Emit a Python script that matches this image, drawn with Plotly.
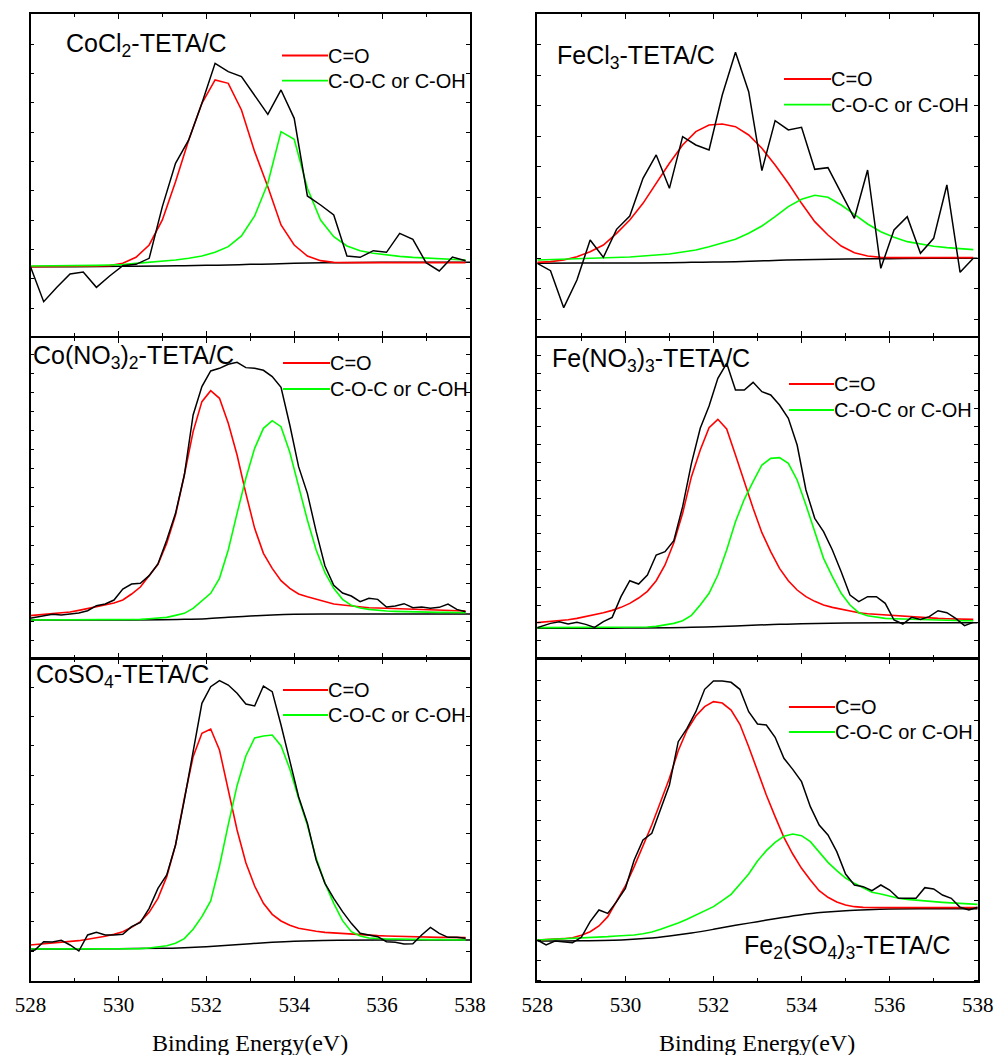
import plotly.graph_objects as go

# ---------------- data (arbitrary intensity units) ----------------
E_03 = [528.0, 528.3, 528.6, 528.9, 529.2, 529.5, 529.8, 530.1, 530.4, 530.7,
        531.0, 531.3, 531.6, 531.9, 532.2, 532.5, 532.8, 533.1, 533.4, 533.7,
        534.0, 534.3, 534.6, 534.9, 535.2, 535.5, 535.8, 536.1, 536.4, 536.7,
        537.0, 537.3, 537.6, 537.9]
E_ODD = [527.9, 528.1, 528.3, 528.5, 528.7, 528.9, 529.1, 529.3, 529.5, 529.7,
         529.9, 530.1, 530.3, 530.5, 530.7, 530.9, 531.1, 531.3, 531.5, 531.7,
         531.9, 532.1, 532.3, 532.5, 532.7, 532.9, 533.1, 533.3, 533.5, 533.7,
         533.9, 534.1, 534.3, 534.5, 534.7, 534.9, 535.1, 535.3, 535.5, 535.7,
         535.9, 536.1, 536.3, 536.5, 536.7, 536.9, 537.1, 537.3, 537.5, 537.7,
         537.9]
E_EVEN = [528.0, 528.2, 528.4, 528.6, 528.8, 529.0, 529.2, 529.4, 529.6, 529.8,
          530.0, 530.2, 530.4, 530.6, 530.8, 531.0, 531.2, 531.4, 531.6, 531.8,
          532.0, 532.2, 532.4, 532.6, 532.8, 533.0, 533.2, 533.4, 533.6, 533.8,
          534.0, 534.2, 534.4, 534.6, 534.8, 535.0, 535.2, 535.4, 535.6, 535.8,
          536.0, 536.2, 536.4, 536.6, 536.8, 537.0, 537.2, 537.4, 537.6, 537.8,
          538.0]
E_BG = [528.0, 529.0, 530.0, 531.0, 531.5, 532.0, 532.5, 533.0, 533.5, 534.0,
        535.0, 536.0, 537.0, 538.0]
E_BG_BR = [528.0, 529.0, 530.0, 530.5, 531.0, 531.5, 532.0, 532.5, 533.0, 533.5,
           534.0, 534.5, 535.0, 535.5, 536.0, 537.0, 538.0]

# CoCl2-TETA/C
COCL2_RAW = [208, 103, 146, 186, 192, 146, 180, 211, 215, 233, 388, 518, 588, 698, 818,
             793, 778, 721, 665, 738, 653, 420, 393, 363, 240, 236, 256, 251, 308, 290,
             220, 195, 237, 226]
COCL2_CO = [208, 208, 208, 208, 209, 210, 211, 218, 236, 273, 348, 463, 588, 698, 768,
            758, 678, 553, 448, 333, 273, 240, 226, 221, 220, 220, 220, 220, 220, 220,
            220, 220, 220, 220]
COCL2_COC = [210, 210, 211, 211, 212, 212, 213, 214, 218, 221, 224, 228, 233, 240, 251,
             268, 300, 360, 458, 613, 590, 443, 348, 298, 270, 256, 248, 243, 239, 236,
             234, 232, 230, 228]
COCL2_BG = [208, 208, 209, 210, 211, 212, 213, 215, 216, 218, 220, 221, 221, 221]

# FeCl3-TETA/C
FECL3_RAW = [218, 196, 85, 168, 288, 236, 320, 360, 473, 543, 443, 598, 573, 558, 723,
             851, 733, 496, 646, 618, 626, 500, 505, 428, 353, 498, 203, 318, 358, 248,
             293, 453, 191, 233]
FECL3_CO = [221, 223, 228, 238, 253, 273, 308, 348, 398, 458, 518, 573, 613, 633, 636,
            628, 603, 563, 513, 458, 398, 343, 303, 270, 250, 240, 236, 235, 235, 235,
            235, 235, 235, 235]
FECL3_COC = [228, 229, 230, 231, 232, 233, 235, 237, 240, 243, 246, 252, 258, 268, 278,
             290, 308, 330, 358, 388, 410, 422, 416, 393, 365, 336, 313, 296, 283, 275,
             269, 265, 262, 259]
FECL3_BG = [218, 219, 219, 220, 221, 222, 223, 225, 227, 229, 231, 232, 233, 233]

# Co(NO3)2-TETA/C
CONO3_RAW = [116, 120, 124, 130, 128, 132, 134, 141, 156, 161, 173, 206, 221, 223, 246,
             281, 353, 433, 548, 728, 813, 860, 868, 880, 886, 870, 868, 862, 843, 811,
             698, 573, 493, 378, 275, 217, 194, 185, 168, 178, 175, 152, 155, 162, 150,
             152, 148, 151, 161, 145, 138]
CONO3_CO = [125, 127, 129, 131, 134, 137, 142, 147, 153, 157, 164, 173, 191, 212, 246,
            280, 343, 428, 548, 678, 768, 801, 778, 703, 608, 493, 388, 313, 268, 231,
            208, 191, 183, 175, 169, 161, 158, 155, 153, 150, 149, 148, 147, 146, 145,
            144, 143, 142, 141, 141, 140]
CONO3_COC = [113, 113, 113, 113, 113, 113, 113, 113, 113, 113, 113, 113, 114, 115, 117,
             119, 121, 127, 133, 148, 171, 193, 238, 323, 433, 538, 628, 688, 711, 693,
             616, 513, 413, 323, 255, 208, 175, 157, 149, 145, 142, 140, 139, 138, 137,
             137, 136, 136, 136, 135, 135]
CONO3_BG = [113, 113, 113, 114, 115, 117, 121, 125, 128, 130, 131, 131, 131, 131]

# Fe(NO3)3-TETA/C
FENO3_RAW = [86, 95, 103, 108, 101, 106, 100, 91, 108, 121, 183, 231, 221, 248, 308,
             318, 351, 453, 583, 688, 755, 838, 883, 803, 803, 826, 798, 788, 758, 718,
             638, 503, 418, 378, 323, 258, 188, 168, 183, 183, 163, 113, 101, 121, 115,
             123, 141, 135, 118, 96, 106]
FENO3_CO = [104, 106, 108, 111, 114, 118, 123, 128, 135, 142, 151, 163, 179, 199, 231,
            278, 345, 433, 543, 623, 690, 715, 686, 608, 525, 448, 375, 318, 268, 231,
            203, 183, 169, 158, 151, 145, 139, 135, 132, 130, 128, 126, 124, 122, 121,
            119, 118, 117, 116, 116, 115]
FENO3_COC = [90, 90, 90, 90, 90, 90, 90, 90, 90, 90, 90, 90, 91, 92, 94,
             98, 103, 111, 127, 158, 193, 248, 323, 408, 475, 528, 578, 598, 600, 583,
             533, 458, 378, 298, 243, 193, 158, 135, 126, 121, 118, 117, 116, 115, 114,
             113, 113, 112, 112, 111, 111]
FENO3_BG = [88, 88, 89, 90, 91, 93, 95, 98, 100, 102, 104, 105, 105, 105]

# CoSO4-TETA/C
COSO4_RAW = [88, 93, 118, 117, 122, 108, 90, 138, 146, 138, 138, 140, 163, 176, 218,
             278, 318, 408, 543, 693, 833, 883, 901, 888, 863, 831, 825, 885, 868, 768,
             663, 553, 473, 363, 293, 248, 208, 173, 143, 138, 133, 118, 116, 111, 112,
             138, 161, 143, 131, 131, 128]
COSO4_CO = [107, 109, 111, 113, 115, 118, 121, 125, 129, 134, 140, 148, 161, 178, 206,
            248, 313, 408, 548, 673, 743, 756, 693, 573, 453, 355, 285, 233, 200, 180,
            167, 158, 153, 149, 146, 144, 142, 140, 138, 137, 136, 135, 134, 133, 133,
            132, 132, 131, 131, 130, 130]
COSO4_COC = [96, 96, 96, 96, 96, 96, 96, 96, 96, 96, 96, 96, 96, 97, 99,
             102, 106, 113, 127, 155, 193, 240, 345, 469, 586, 675, 729, 735, 738, 706,
             636, 548, 468, 368, 293, 233, 181, 148, 135, 129, 127, 126, 126, 125, 125,
             124, 124, 124, 123, 123, 123]
COSO4_BG = [96, 96, 97, 98, 100, 103, 107, 112, 116, 119, 122, 123, 123, 123]

# Fe2(SO4)3-TETA/C
FESO4_RAW = [123, 108, 120, 118, 115, 131, 178, 213, 203, 238, 278, 363, 423, 443, 513,
             588, 718, 758, 808, 875, 900, 900, 896, 875, 808, 771, 768, 731, 668, 635,
             598, 523, 468, 438, 388, 321, 288, 283, 271, 288, 273, 248, 248, 248, 280,
             276, 258, 248, 221, 213, 221]
FESO4_CO = [123, 124, 125, 127, 130, 137, 148, 165, 193, 241, 285, 343, 403, 468, 538,
            608, 691, 753, 795, 823, 838, 834, 813, 770, 703, 628, 558, 493, 431, 381,
            338, 303, 271, 251, 237, 228, 223, 221, 220, 220, 220, 220, 220, 220, 220,
            220, 220, 220, 220, 220, 220]
FESO4_COC = [123, 124, 125, 126, 127, 128, 130, 131, 133, 135, 136, 138, 142, 147, 155,
             164, 174, 185, 197, 209, 223, 241, 260, 290, 321, 360, 391, 416, 434, 441,
             436, 418, 387, 356, 331, 309, 293, 279, 266, 261, 254, 248, 245, 242, 240,
             238, 236, 234, 233, 231, 230]
FESO4_BG = [120, 121, 124, 128, 135, 144, 155, 167, 178, 189, 199, 206, 211, 214, 216,
            217, 217]

PANEL_LABELS = ["CoCl<sub>2</sub>-TETA/C", "FeCl<sub>3</sub>-TETA/C",
                "Co(NO<sub>3</sub>)<sub>2</sub>-TETA/C", "Fe(NO<sub>3</sub>)<sub>3</sub>-TETA/C",
                "CoSO<sub>4</sub>-TETA/C", "Fe<sub>2</sub>(SO<sub>4</sub>)<sub>3</sub>-TETA/C"]
SERIES_NAMES = ["C=O", "C-O-C or C-OH"]
X_TITLE = "Binding Energy(eV)"

# ---------------- layout helpers (window pixel -> paper) ----------------
W, H = 994, 1055
def px(x):
    return x / W
def py(y):
    return 1 - y / H

panels = [
    dict(E=E_03, raw=COCL2_RAW, co=COCL2_CO, coc=COCL2_COC, ebg=E_BG, bg=COCL2_BG,
         xd=(30.5, 470), yd=(14.3, 336), yr=965, t0=83, dt=88,
         lab=(64, 45), leg=(282, 328, 55.5, 80.7)),
    dict(E=E_03, raw=FECL3_RAW, co=FECL3_CO, coc=FECL3_COC, ebg=E_BG, bg=FECL3_BG,
         xd=(537.3, 977.7), yd=(14.3, 336), yr=965, t0=50, dt=91.5,
         lab=(555, 57), leg=(784, 831, 79, 104.7)),
    dict(E=E_ODD, raw=CONO3_RAW, co=CONO3_CO, coc=CONO3_COC, ebg=E_BG, bg=CONO3_BG,
         xd=(30.5, 470), yd=(338.3, 657.7), yr=958, t0=51, dt=57.3,
         lab=(31, 357), leg=(283, 330, 363, 389)),
    dict(E=E_ODD, raw=FENO3_RAW, co=FENO3_CO, coc=FENO3_COC, ebg=E_BG, bg=FENO3_BG,
         xd=(537.3, 977.7), yd=(338.3, 657.7), yr=958, t0=51, dt=53.5,
         lab=(550, 360), leg=(789, 834, 384, 410)),
    dict(E=E_ODD, raw=COSO4_RAW, co=COSO4_CO, coc=COSO4_COC, ebg=E_BG, bg=COSO4_BG,
         xd=(30.5, 470), yd=(659, 981), yr=966, t0=90, dt=88,
         lab=(34, 676), leg=(283, 328, 690, 715)),
    dict(E=E_EVEN, raw=FESO4_RAW, co=FESO4_CO, coc=FESO4_COC, ebg=E_BG_BR, bg=FESO4_BG,
         xd=(537.3, 977.7), yd=(659, 981), yr=966, t0=63, dt=60,
         lab=(742, 947), leg=(789, 835, 707, 732)),
]

RED = "#FF0000"
GREEN = "#00FF00"
BLACK = "#000000"
SANS = "Liberation Sans, Arial, sans-serif"
SERIF = "Liberation Serif, Times New Roman, serif"

fig = go.Figure()
layout = dict(template="none", width=W, height=H,
              margin=dict(l=0, r=0, t=0, b=0, pad=0, autoexpand=False),
              paper_bgcolor="white", plot_bgcolor="white", showlegend=False)
annotations = []
shapes = []

for i, p in enumerate(panels):
    n = "" if i == 0 else str(i + 1)
    xa, ya = "x" + n, "y" + n
    fig.add_trace(go.Scatter(x=p["ebg"], y=p["bg"], mode="lines", xaxis=xa, yaxis=ya,
                             line=dict(color=BLACK, width=1.5, shape="spline", smoothing=1),
                             hoverinfo="skip"))
    fig.add_trace(go.Scatter(x=p["E"], y=p["co"], mode="lines", xaxis=xa, yaxis=ya,
                             name=SERIES_NAMES[0], line=dict(color=RED, width=1.6)))
    fig.add_trace(go.Scatter(x=p["E"], y=p["coc"], mode="lines", xaxis=xa, yaxis=ya,
                             name=SERIES_NAMES[1], line=dict(color=GREEN, width=1.6)))
    fig.add_trace(go.Scatter(x=p["E"], y=p["raw"], mode="lines", xaxis=xa, yaxis=ya,
                             line=dict(color=BLACK, width=1.5)))
    bottom = i >= 4
    layout["xaxis" + n] = dict(
        domain=[px(p["xd"][0]), px(p["xd"][1])], anchor=ya, range=[528, 538],
        automargin=False, ticklabeloverflow="allow",
        showline=True, linecolor=BLACK, linewidth=1.5, mirror="ticks",
        ticks="inside", ticklen=5, tickwidth=1.2, tickcolor=BLACK,
        tick0=528, dtick=2,
        minor=dict(dtick=1, ticks="inside", ticklen=3, tickwidth=1.2, tickcolor=BLACK),
        showgrid=False, zeroline=False, showticklabels=bottom,
        tickfont=dict(family=SERIF, size=21, color=BLACK), ticklabelstandoff=4)
    layout["yaxis" + n] = dict(
        domain=[py(p["yd"][1]), py(p["yd"][0])], anchor=xa, range=[0, p["yr"]],
        automargin=False,
        showline=True, linecolor=BLACK, linewidth=1.5, mirror="ticks",
        ticks="inside", ticklen=4, tickwidth=1.2, tickcolor=BLACK,
        tick0=p["t0"], dtick=p["dt"], showgrid=False, zeroline=False,
        showticklabels=False)
    # panel label
    annotations.append(dict(text=PANEL_LABELS[i], xref="paper", yref="paper",
                            x=px(p["lab"][0]), y=py(p["lab"][1]), xanchor="left",
                            yanchor="middle", showarrow=False,
                            font=dict(family=SANS, size=25, color=BLACK)))
    # legend keys
    x0, x1, yr_, yg_ = p["leg"]
    for yy, col, name in ((yr_, RED, SERIES_NAMES[0]), (yg_, GREEN, SERIES_NAMES[1])):
        shapes.append(dict(type="line", xref="paper", yref="paper",
                           x0=px(x0), x1=px(x1), y0=py(yy), y1=py(yy),
                           line=dict(color=col, width=1.8)))
        annotations.append(dict(text=name, xref="paper", yref="paper",
                                x=px(x1 - 1), y=py(yy), xanchor="left", yanchor="middle",
                                showarrow=False, borderpad=0,
                                font=dict(family=SANS, size=20, color=BLACK)))

for xc in (250, 757):
    annotations.append(dict(text=X_TITLE, xref="paper", yref="paper",
                            x=px(xc), y=py(1043), xanchor="center", yanchor="middle",
                            showarrow=False, font=dict(family=SERIF, size=24, color=BLACK)))

layout["annotations"] = annotations
layout["shapes"] = shapes
fig.update_layout(**layout)
# the page body's default 8 px margin is removed so the figure fills the window exactly
fig.write_html("out.html", config={"displayModeBar": False},
               post_script="document.body.style.margin='0';document.body.style.overflow='hidden';")
